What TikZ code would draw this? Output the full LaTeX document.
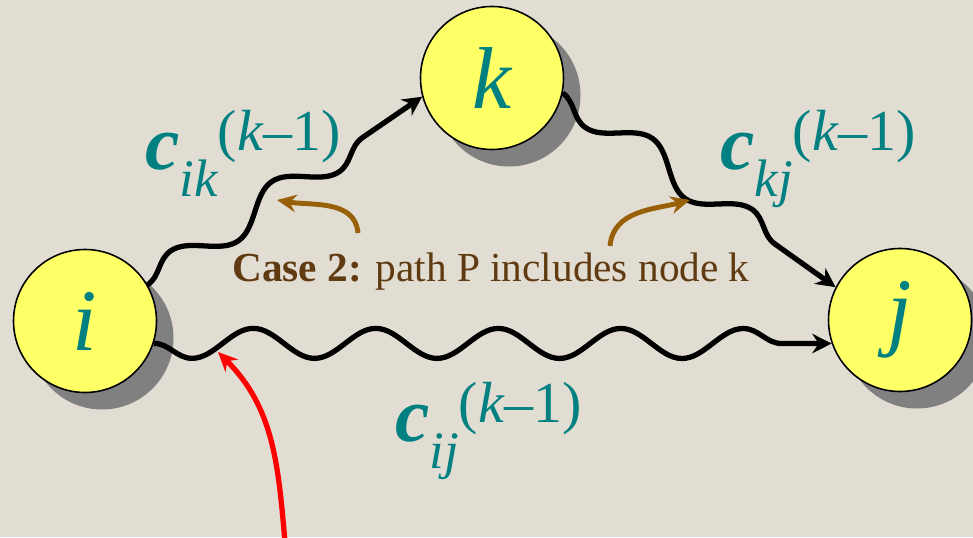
\documentclass[tikz,border=0pt]{standalone}
\usepackage{fontspec}
\setmainfont{Liberation Serif}
\usetikzlibrary{arrows.meta,shadows,decorations.pathmorphing}
\definecolor{bgbeige}{HTML}{E2DDD3}
\definecolor{nodeyellow}{HTML}{FFFF66}
\definecolor{labelteal}{HTML}{008080}
\definecolor{casebrown}{HTML}{603A10}
\definecolor{arrowbrown}{HTML}{99600A}
\definecolor{shadowgray}{HTML}{808080}
\newcommand{\costlbl}[1]{{\fontsize{44}{44}\selectfont\bfseries\itshape c}%
  \raisebox{-15pt}{\fontsize{30}{30}\selectfont\itshape #1}%
  \raisebox{11pt}{\fontsize{33}{33}\selectfont(\textit{k}–1)}}
\begin{document}
\begin{tikzpicture}[
  vtx/.style={circle,draw,line width=0.9pt,fill=nodeyellow,minimum size=2.86cm,inner sep=0pt,
    font=\fontsize{50}{50}\selectfont\itshape,text=labelteal,
    drop shadow={shadow xshift=0.34cm,shadow yshift=-0.34cm,fill=shadowgray,opacity=1}},
  wave/.style={-{Stealth[length=11pt,width=11pt]},line width=3pt,decorate,
    decoration={snake,amplitude=0.3cm,segment length=2.45cm,post length=0.45cm}},
  cost/.style={text=labelteal,anchor=base west,inner sep=0pt},
  hint/.style={-{Stealth[length=11pt,width=10pt]},line width=2.8pt,arrowbrown}]
\fill[bgbeige] (0,0) rectangle (19.46,10.74);
\useasboundingbox (0,0) rectangle (19.46,10.74);
\node[vtx] (i) at (1.70,4.32) {i};
\node[vtx] (k) at (9.84,9.18) {k};
\node[vtx] (j) at (18.00,4.34) {j};
\draw[wave] (i.30) -- (k.195);
\draw[wave,decoration={mirror}] (k.348) -- (j.153);
\draw[wave,decoration={mirror}] (i.342) -- (j.199);
\node[cost] (cik) at (2.90,7.34) {\costlbl{ik}};
\node[cost] (ckj) at (14.40,7.34) {\costlbl{kj}};
\node[cost] (cij) at (7.90,1.90) {\costlbl{ij}};
\node[anchor=base,inner sep=0pt,text=casebrown,font=\fontsize{23.5}{23.5}\selectfont] (case) at (9.82,5.10)
  {\textbf{Case 2:} path P includes node k};
\coordinate (ikpt) at (5.54,6.74);
\coordinate (kjpt) at (13.80,6.74);
\draw[hint] (case.north) ++(-2.66,0.40) to[out=95,in=-10] (ikpt);
\draw[hint] (case.north) ++(2.38,0.14) to[out=85,in=195] (kjpt);
\coordinate (redfoot) at (5.70,-0.1);
\coordinate (redtip) at (4.36,3.70);
\draw[-{Stealth[length=11pt,width=10pt]},line width=3pt,red] (redfoot) to[out=95,in=-45] (redtip);
\end{tikzpicture}
\end{document}
